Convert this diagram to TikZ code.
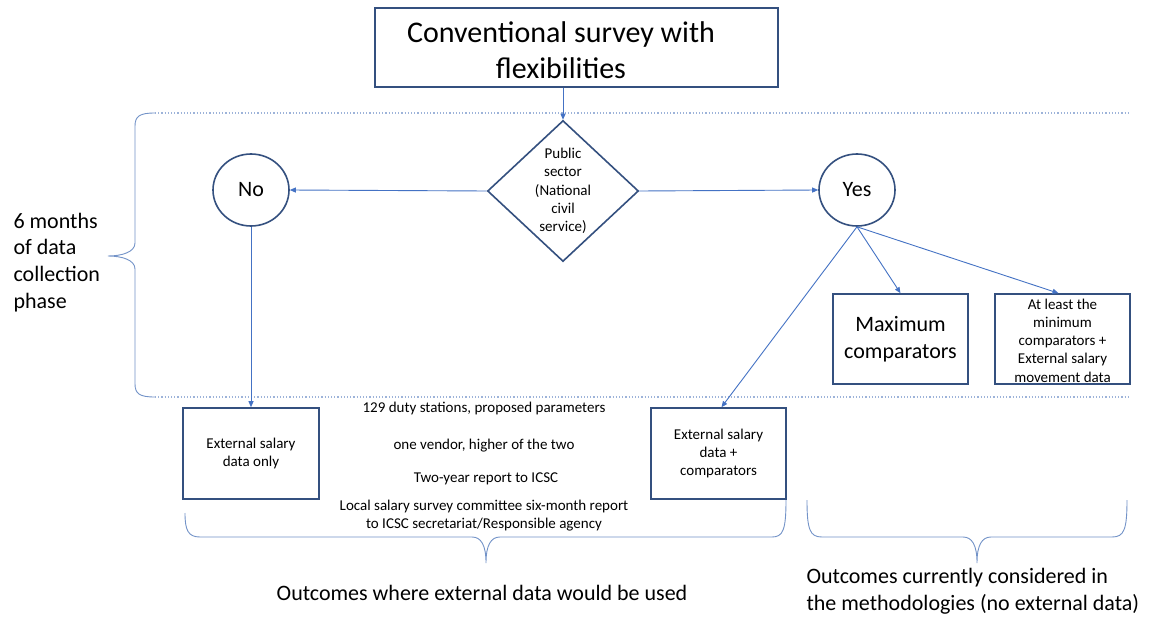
\documentclass[tikz,border=0pt]{standalone}
\usepackage{fontspec}
\setmainfont{Carlito}
\usetikzlibrary{arrows.meta,shapes.geometric,calc}
\definecolor{boxc}{HTML}{34507F}
\definecolor{arrc}{HTML}{4472C4}
\definecolor{brc}{HTML}{7393C8}
\definecolor{dotc}{HTML}{9DB3D9}
\tikzset{
  box/.style={draw=boxc,line width=1.6pt,rectangle,inner sep=0pt,align=center},
  circ/.style={draw=boxc,line width=1.6pt,ellipse,inner sep=0pt,minimum width=76pt,minimum height=72pt,font=\fontsize{22}{26}\selectfont},
  conn/.style={draw=arrc,line width=0.9pt,-{Triangle[length=6pt,width=5pt]}},
  brace/.style={draw=brc,line width=0.9pt},
  sep/.style={draw=dotc,line width=1.1pt,dash pattern=on 1.2pt off 2pt},
  small/.style={font=\fontsize{15}{18.3}\selectfont,align=center},
  big/.style={font=\fontsize{22}{26.8}\selectfont},
}
\begin{document}
\begin{tikzpicture}[x=1pt,y=-1pt]
\useasboundingbox (0,0) rectangle (1149,618);
\fill[white] (0,0) rectangle (1149,618);

% title box
\node[box,minimum width=403pt,minimum height=79pt] (top) at (576.5,47.5) {};
\node[font=\fontsize{30}{36}\selectfont,align=center] (toptext) at (561,50) {Conventional survey with\\flexibilities};

% phase separators
\coordinate (d1a) at (155,113);
\coordinate (d1b) at (1128,113);
\coordinate (d2a) at (155,397);
\coordinate (d2b) at (1128,397);
\draw[sep] (d1a) -- (d1b);
\draw[sep] (d2a) -- (d2b);

% decision
\node[draw=boxc,line width=1.6pt,diamond,minimum width=151pt,minimum height=141pt,inner sep=0pt] (dia) at (563,191) {};
\node[small] (dtext) at (563,191) {Public\\sector\\(National\\civil\\service)};

\node[circ] (no) at (251,190) {No};
\node[circ] (yes) at (857,190) {Yes};

% outcome boxes
\node[box,small,minimum width=136pt,minimum height=91pt] (extonly) at (251,453.5) {External salary\\data only};
\node[box,small,minimum width=135pt,minimum height=91pt] (extcomp) at (718.5,453.5) {External salary\\data +\\comparators};
\node[box,big,minimum width=135pt,minimum height=90pt] (maxc) at (900.5,339) {Maximum\\comparators};
\node[box,minimum width=135pt,minimum height=90pt] (atleast) at (1062.5,339) {};
\node[small] (atltext) at (1062.5,340.5) {At least the\\minimum\\comparators +\\External salary\\movement data};

% connectors
\draw[conn] (top.south -| dia.north) -- (dia.north);
\draw[conn] (dia.west) -- (no.east);
\draw[conn] (dia.east) -- (yes.west);
\draw[conn] (no.south) -- (extonly.north);
\draw[conn] (yes.south) -- ([xshift=3pt]extcomp.north);
\draw[conn] (yes.south) -- (maxc.north);
\draw[conn] (yes.south) -- ([xshift=-4pt]atleast.north);

% middle notes
\node[small] (t1) at (484,408) {129 duty stations, proposed parameters};
\node[small] (t2) at (484,446) {one vendor, higher of the two};
\node[small] (t3) at (486,479) {Two-year report to ICSC};
\node[small] (t4) at (484,515.5) {Local salary survey committee six-month report\\to ICSC secretariat/Responsible agency};

% left phase label and brace
\node[big,align=left,anchor=west] (phase) at (10,262.5) {6 months\\of data\\collection\\phase};
\coordinate (lb1) at (155,113);
\coordinate (lbtip) at (108,256);
\coordinate (lb2) at (155,397);
\draw[brace] (lb1) .. controls (140,113) and (135,116) .. (135,126) -- (135,243)
  .. controls (135,252) and (122,256) .. (lbtip)
  .. controls (122,256) and (135,260) .. (135,269) -- (135,384)
  .. controls (135,394) and (140,397) .. (lb2);

% bottom braces
\coordinate (bb1) at (185,513);
\coordinate (bbtip) at (486,563);
\coordinate (bb2) at (786,500);
\draw[brace] (bb1) .. controls (185,530) and (188,537) .. (200,537) -- (472,537)
  .. controls (481,537) and (486,545) .. (bbtip)
  .. controls (486,545) and (491,537) .. (500,537) -- (772,537)
  .. controls (783,537) and (786,530) .. (bb2);
\coordinate (rb1) at (807,500);
\coordinate (rbtip) at (977,563);
\coordinate (rb2) at (1127,500);
\draw[brace] (rb1) .. controls (807,530) and (810,537) .. (822,537) -- (963,537)
  .. controls (972,537) and (977,545) .. (rbtip)
  .. controls (977,545) and (982,537) .. (991,537) -- (1112,537)
  .. controls (1124,537) and (1127,530) .. (rb2);

% captions
\node[big] (cap1) at (482,593) {Outcomes where external data would be used};
\node[big,align=left,anchor=west] (cap2) at (803,591) {Outcomes currently considered in\\the methodologies (no external data)};
\end{tikzpicture}
\end{document}
